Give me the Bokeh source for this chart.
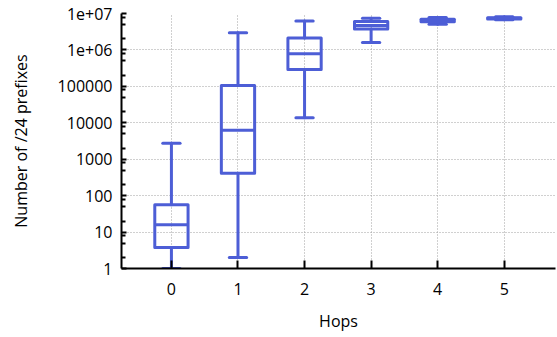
from bokeh.plotting import figure
from bokeh.models import Range1d, FixedTicker, CustomJSTickFormatter, ColumnDataSource
from bokeh.embed import file_html
from bokeh.resources import INLINE

hops = [0, 1, 2, 3, 4, 5]
whisker_low = [1, 2, 13800, 1.59e6, 5.1e6, 6.7e6]
q1 = [3.8, 413, 288000, 3.75e6, 5.9e6, 7.1e6]
median = [16, 6200, 790000, 4.65e6, 6.4e6, 7.4e6]
q3 = [56, 106000, 2.13e6, 6.0e6, 6.9e6, 7.7e6]
whisker_high = [2760, 2.97e6, 6.2e6, 7.4e6, 7.8e6, 8.2e6]

xtick_values = [0, 1, 2, 3, 4, 5]
ytick_values = [1, 10, 100, 1000, 10000, 100000, 1e6, 1e7]
ytick_labels = ["1", "10", "100", "1000", "10000", "100000", "1e+06", "1e+07"]
minor_mult = [2, 5, 8]

FONT = "Open Sans"
COLOR = "#4d5ed6"
BOX_W = 0.5
CAP_W = 0.26

p = figure(width=557, height=337, output_backend="svg", toolbar_location=None,
           y_axis_type="log", x_range=Range1d(-0.75, 5.77), y_range=Range1d(1, 1e7),
           min_border_left=121, min_border_right=2, min_border_top=13, min_border_bottom=69,
           x_axis_label="Hops", y_axis_label="Number of /24 prefixes")
p.outline_line_color = None
p.background_fill_color = "white"
p.border_fill_color = "white"

src = ColumnDataSource(dict(
    x=hops, lo=whisker_low, q1=q1, med=median, q3=q3, hi=whisker_high,
    left=[h - BOX_W / 2 for h in hops], right=[h + BOX_W / 2 for h in hops],
    cl=[h - CAP_W / 2 for h in hops], cr=[h + CAP_W / 2 for h in hops],
))

lw = 3
p.segment(x0="x", y0="lo", x1="x", y1="q1", source=src, line_color=COLOR, line_width=lw, line_cap="round")
p.segment(x0="x", y0="q3", x1="x", y1="hi", source=src, line_color=COLOR, line_width=lw, line_cap="round")
p.segment(x0="cl", y0="lo", x1="cr", y1="lo", source=src, line_color=COLOR, line_width=lw, line_cap="round")
p.segment(x0="cl", y0="hi", x1="cr", y1="hi", source=src, line_color=COLOR, line_width=lw, line_cap="round")
p.quad(left="left", right="right", bottom="q1", top="q3", source=src,
       fill_color=None, line_color=COLOR, line_width=lw, line_join="round")
p.segment(x0="left", y0="med", x1="right", y1="med", source=src, line_color=COLOR, line_width=lw)

# axes
minor = [m * v for v in ytick_values[:-1] for m in minor_mult]
p.yaxis.ticker = FixedTicker(ticks=ytick_values, minor_ticks=minor)
p.yaxis.formatter = CustomJSTickFormatter(args=dict(labels=ytick_labels),
                                          code="return labels[Math.round(Math.log10(tick))];")
p.xaxis.ticker = FixedTicker(ticks=xtick_values)

for ax in (p.xaxis[0], p.yaxis[0]):
    ax.axis_line_color = "black"
    ax.axis_line_width = 2
    ax.major_tick_line_color = "black"
    ax.major_tick_line_width = 2
    ax.minor_tick_line_color = "black"
    ax.minor_tick_line_width = 2
    ax.major_tick_out = 0
    ax.minor_tick_out = 0
    ax.major_label_text_font = FONT
    ax.major_label_text_font_size = "16px"
    ax.major_label_text_color = "black"
    ax.axis_label_text_font = FONT
    ax.axis_label_text_font_size = "16px"
    ax.axis_label_text_font_style = "normal"
    ax.axis_label_text_color = "black"

p.yaxis.major_tick_in = 5
p.yaxis.minor_tick_in = 4
p.yaxis.major_label_standoff = 9
p.yaxis.axis_label_standoff = 23
p.xaxis.major_tick_in = 8
p.xaxis.minor_tick_in = 0
p.xaxis.minor_tick_line_color = None
p.xaxis.major_label_standoff = 14
p.xaxis.axis_label_standoff = 12

for g in (p.xgrid[0], p.ygrid[0]):
    g.grid_line_color = "#a0a0a0"
    g.grid_line_dash = "1 2"
    g.grid_line_width = 1
p.ygrid.ticker = FixedTicker(ticks=ytick_values)
p.xgrid.ticker = FixedTicker(ticks=xtick_values)

open("out.html", "w").write(file_html(p, INLINE))
